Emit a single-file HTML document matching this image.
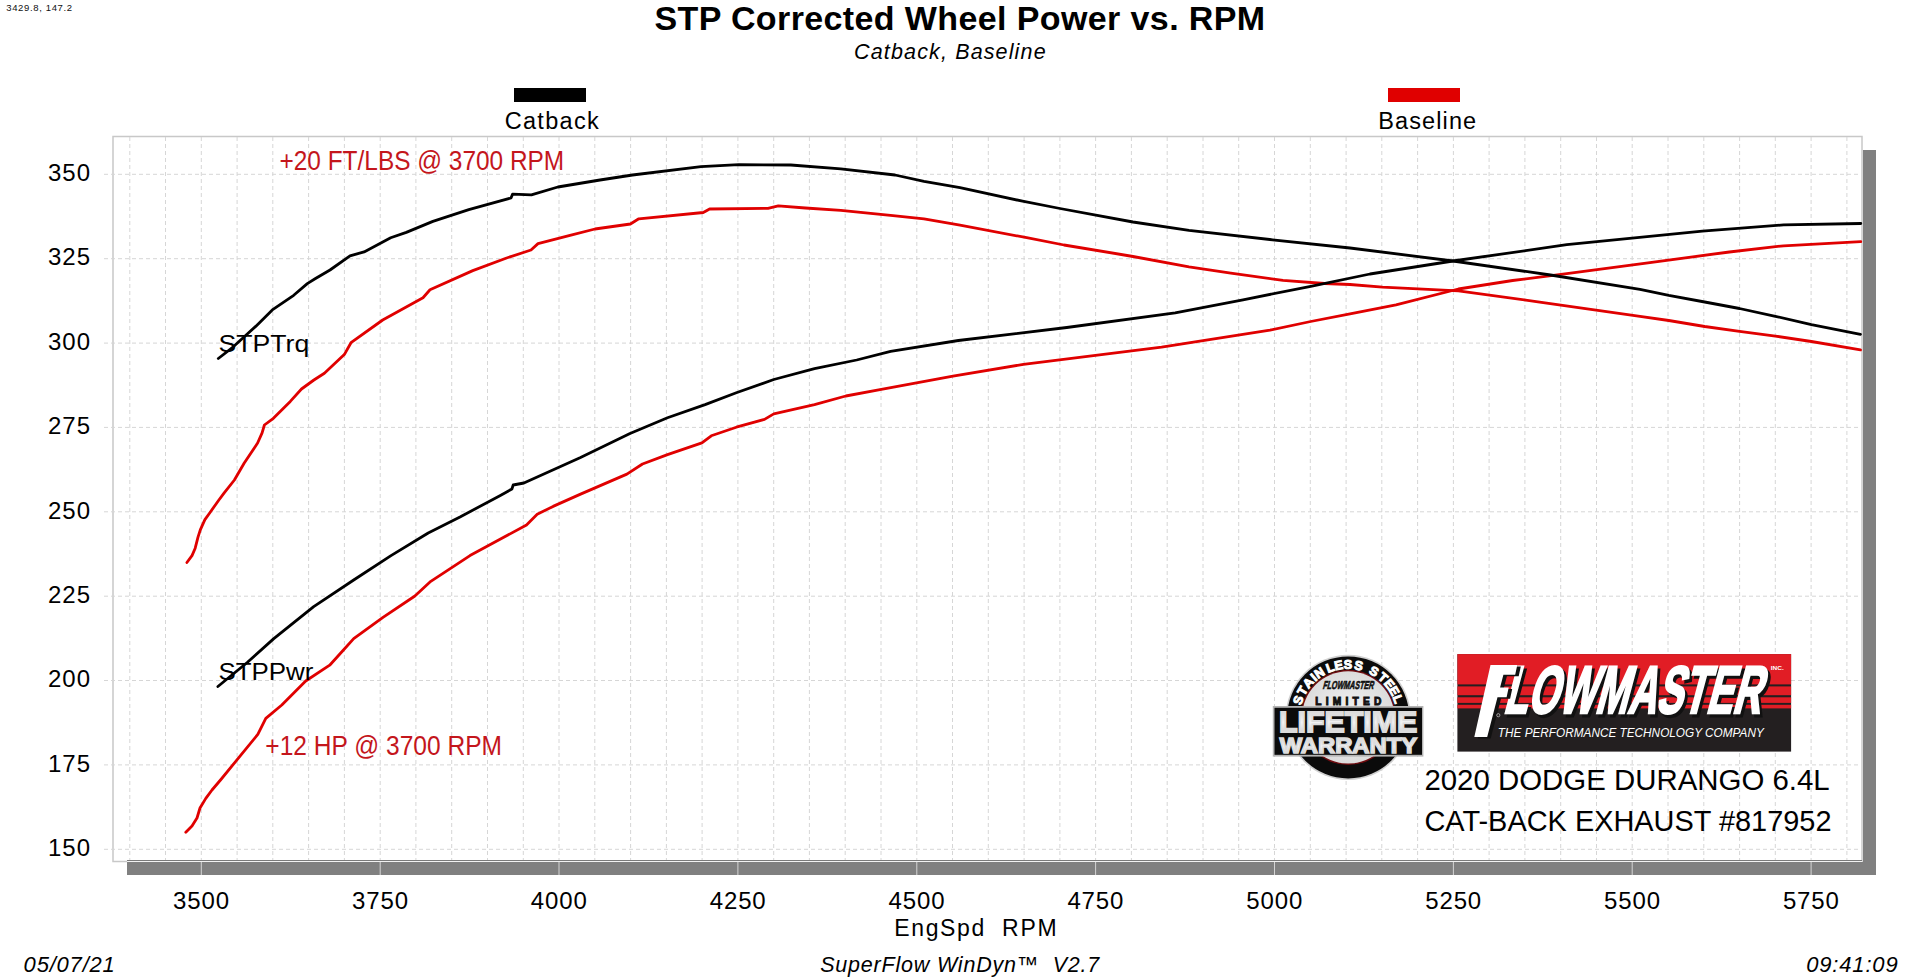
<!DOCTYPE html>
<html><head><meta charset="utf-8"><style>
html,body{margin:0;padding:0;background:#fff;width:1919px;height:977px;overflow:hidden}
svg{display:block}
text{font-family:"Liberation Sans",sans-serif}
.ax{font-size:24px;fill:#000}
.g{stroke:#d6d6d6;stroke-width:1;stroke-dasharray:4,3;fill:none}
.cv{fill:none;stroke-width:2.8;stroke-linejoin:round;stroke-linecap:round}
</style></head><body>
<svg width="1919" height="977" viewBox="0 0 1919 977">
<rect x="514" y="88" width="72" height="14" fill="#000"/>
<rect x="1388" y="88" width="72" height="14" fill="#e00000"/>
<text x="6.20" y="10.90" font-size="9.5" fill="#111" textLength="65.91" lengthAdjust="spacing">3429.8, 147.2</text><text x="654.40" y="29.70" font-size="34" fill="#000" font-weight="bold" textLength="610.73" lengthAdjust="spacing">STP Corrected Wheel Power vs. RPM</text><text x="854.10" y="58.50" font-size="21.5" fill="#000" font-style="italic" textLength="191.50" lengthAdjust="spacing">Catback, Baseline</text><text x="504.70" y="128.90" font-size="23.5" fill="#000" textLength="94.02" lengthAdjust="spacing">Catback</text><text x="1378.20" y="128.90" font-size="23.5" fill="#000" textLength="97.96" lengthAdjust="spacing">Baseline</text>
<!-- shadow -->
<!-- plot -->
<rect x="113" y="136.5" width="1749" height="725" fill="#fff" stroke="#c8c8c8" stroke-width="1.5"/>
<rect x="1863" y="150" width="13" height="725" fill="#808080"/>
<rect x="127" y="862" width="1749" height="13" fill="#808080"/>
<line x1="127" y1="860.5" x2="1862" y2="860.5" stroke="#7a7a7a" stroke-width="1"/>
<line x1="127" y1="861.5" x2="1862" y2="861.5" stroke="#f2f2f2" stroke-width="1"/>
<line x1="201.3" y1="862" x2="201.3" y2="875" stroke="#d4d4d4" stroke-width="1"/><line x1="380.2" y1="862" x2="380.2" y2="875" stroke="#d4d4d4" stroke-width="1"/><line x1="559.0" y1="862" x2="559.0" y2="875" stroke="#d4d4d4" stroke-width="1"/><line x1="737.9" y1="862" x2="737.9" y2="875" stroke="#d4d4d4" stroke-width="1"/><line x1="916.8" y1="862" x2="916.8" y2="875" stroke="#d4d4d4" stroke-width="1"/><line x1="1095.6" y1="862" x2="1095.6" y2="875" stroke="#d4d4d4" stroke-width="1"/><line x1="1274.5" y1="862" x2="1274.5" y2="875" stroke="#d4d4d4" stroke-width="1"/><line x1="1453.4" y1="862" x2="1453.4" y2="875" stroke="#d4d4d4" stroke-width="1"/><line x1="1632.2" y1="862" x2="1632.2" y2="875" stroke="#d4d4d4" stroke-width="1"/><line x1="1811.1" y1="862" x2="1811.1" y2="875" stroke="#d4d4d4" stroke-width="1"/>
<line x1="129.8" y1="137" x2="129.8" y2="860" class="g"/><line x1="165.5" y1="137" x2="165.5" y2="860" class="g"/><line x1="201.3" y1="137" x2="201.3" y2="860" class="g"/><line x1="237.1" y1="137" x2="237.1" y2="860" class="g"/><line x1="272.8" y1="137" x2="272.8" y2="860" class="g"/><line x1="308.6" y1="137" x2="308.6" y2="860" class="g"/><line x1="344.4" y1="137" x2="344.4" y2="860" class="g"/><line x1="380.2" y1="137" x2="380.2" y2="860" class="g"/><line x1="415.9" y1="137" x2="415.9" y2="860" class="g"/><line x1="451.7" y1="137" x2="451.7" y2="860" class="g"/><line x1="487.5" y1="137" x2="487.5" y2="860" class="g"/><line x1="523.3" y1="137" x2="523.3" y2="860" class="g"/><line x1="559.0" y1="137" x2="559.0" y2="860" class="g"/><line x1="594.8" y1="137" x2="594.8" y2="860" class="g"/><line x1="630.6" y1="137" x2="630.6" y2="860" class="g"/><line x1="666.4" y1="137" x2="666.4" y2="860" class="g"/><line x1="702.1" y1="137" x2="702.1" y2="860" class="g"/><line x1="737.9" y1="137" x2="737.9" y2="860" class="g"/><line x1="773.7" y1="137" x2="773.7" y2="860" class="g"/><line x1="809.4" y1="137" x2="809.4" y2="860" class="g"/><line x1="845.2" y1="137" x2="845.2" y2="860" class="g"/><line x1="881.0" y1="137" x2="881.0" y2="860" class="g"/><line x1="916.8" y1="137" x2="916.8" y2="860" class="g"/><line x1="952.5" y1="137" x2="952.5" y2="860" class="g"/><line x1="988.3" y1="137" x2="988.3" y2="860" class="g"/><line x1="1024.1" y1="137" x2="1024.1" y2="860" class="g"/><line x1="1059.9" y1="137" x2="1059.9" y2="860" class="g"/><line x1="1095.6" y1="137" x2="1095.6" y2="860" class="g"/><line x1="1131.4" y1="137" x2="1131.4" y2="860" class="g"/><line x1="1167.2" y1="137" x2="1167.2" y2="860" class="g"/><line x1="1203.0" y1="137" x2="1203.0" y2="860" class="g"/><line x1="1238.7" y1="137" x2="1238.7" y2="860" class="g"/><line x1="1274.5" y1="137" x2="1274.5" y2="860" class="g"/><line x1="1310.3" y1="137" x2="1310.3" y2="860" class="g"/><line x1="1346.1" y1="137" x2="1346.1" y2="860" class="g"/><line x1="1381.8" y1="137" x2="1381.8" y2="860" class="g"/><line x1="1417.6" y1="137" x2="1417.6" y2="860" class="g"/><line x1="1453.4" y1="137" x2="1453.4" y2="860" class="g"/><line x1="1489.1" y1="137" x2="1489.1" y2="860" class="g"/><line x1="1524.9" y1="137" x2="1524.9" y2="860" class="g"/><line x1="1560.7" y1="137" x2="1560.7" y2="860" class="g"/><line x1="1596.5" y1="137" x2="1596.5" y2="860" class="g"/><line x1="1632.2" y1="137" x2="1632.2" y2="860" class="g"/><line x1="1668.0" y1="137" x2="1668.0" y2="860" class="g"/><line x1="1703.8" y1="137" x2="1703.8" y2="860" class="g"/><line x1="1739.6" y1="137" x2="1739.6" y2="860" class="g"/><line x1="1775.3" y1="137" x2="1775.3" y2="860" class="g"/><line x1="1811.1" y1="137" x2="1811.1" y2="860" class="g"/><line x1="1846.9" y1="137" x2="1846.9" y2="860" class="g"/><line x1="104" y1="849.3" x2="1861" y2="849.3" class="g"/><line x1="104" y1="764.9" x2="1861" y2="764.9" class="g"/><line x1="104" y1="680.5" x2="1861" y2="680.5" class="g"/><line x1="104" y1="596.2" x2="1861" y2="596.2" class="g"/><line x1="104" y1="511.8" x2="1861" y2="511.8" class="g"/><line x1="104" y1="427.4" x2="1861" y2="427.4" class="g"/><line x1="104" y1="343.1" x2="1861" y2="343.1" class="g"/><line x1="104" y1="258.7" x2="1861" y2="258.7" class="g"/><line x1="104" y1="174.3" x2="1861" y2="174.3" class="g"/>
<text x="48" y="856.0" textLength="42" lengthAdjust="spacing" class="ax">150</text><text x="48" y="771.6" textLength="42" lengthAdjust="spacing" class="ax">175</text><text x="48" y="687.2" textLength="42" lengthAdjust="spacing" class="ax">200</text><text x="48" y="602.9" textLength="42" lengthAdjust="spacing" class="ax">225</text><text x="48" y="518.5" textLength="42" lengthAdjust="spacing" class="ax">250</text><text x="48" y="434.1" textLength="42" lengthAdjust="spacing" class="ax">275</text><text x="48" y="349.8" textLength="42" lengthAdjust="spacing" class="ax">300</text><text x="48" y="265.4" textLength="42" lengthAdjust="spacing" class="ax">325</text><text x="48" y="181.0" textLength="42" lengthAdjust="spacing" class="ax">350</text>
<text x="173.1" y="908.6" textLength="56" lengthAdjust="spacing" class="ax">3500</text><text x="352.0" y="908.6" textLength="56" lengthAdjust="spacing" class="ax">3750</text><text x="530.8" y="908.6" textLength="56" lengthAdjust="spacing" class="ax">4000</text><text x="709.7" y="908.6" textLength="56" lengthAdjust="spacing" class="ax">4250</text><text x="888.6" y="908.6" textLength="56" lengthAdjust="spacing" class="ax">4500</text><text x="1067.4" y="908.6" textLength="56" lengthAdjust="spacing" class="ax">4750</text><text x="1246.3" y="908.6" textLength="56" lengthAdjust="spacing" class="ax">5000</text><text x="1425.2" y="908.6" textLength="56" lengthAdjust="spacing" class="ax">5250</text><text x="1604.0" y="908.6" textLength="56" lengthAdjust="spacing" class="ax">5500</text><text x="1782.9" y="908.6" textLength="56" lengthAdjust="spacing" class="ax">5750</text>
<text x="894.20" y="935.80" font-size="23" fill="#000" textLength="162.35" lengthAdjust="spacing">EngSpd  RPM</text><text x="23.60" y="971.70" font-size="22" fill="#000" font-style="italic" textLength="91.24" lengthAdjust="spacing">05/07/21</text><text x="820.20" y="971.70" font-size="21.5" fill="#000" font-style="italic" textLength="279.10" lengthAdjust="spacing">SuperFlow WinDyn™  V2.7</text><text x="1806.20" y="971.60" font-size="22" fill="#000" font-style="italic" textLength="91.44" lengthAdjust="spacing">09:41:09</text>
<!-- curves -->
<path class="cv" stroke="#e00000" d="M186.9,562.5 L192.0,555.6 L195.2,548.2 L198.0,537.1 L200.3,529.8 L204.9,519.6 L209.5,513.2 L218.7,500.3 L224.2,492.9 L234.4,480.0 L244.1,463.3 L257.6,443.0 L262.1,432.9 L264.4,425.0 L273.4,418.3 L290.3,401.4 L301.5,389.0 L313.9,380.0 L324.4,373.3 L344.3,354.6 L351.0,342.7 L382.7,320.0 L423.0,297.7 L430.0,289.8 L472.8,270.6 L506.6,258.0 L531.0,250.0 L538.0,243.6 L570.0,235.4 L595.0,229.0 L630.4,224.0 L638.8,218.8 L703.3,212.5 L709.6,209.0 L768.0,208.3 L778.3,205.8 L805.4,208.0 L840.8,210.4 L893.0,215.6 L924.0,218.8 L960.0,225.2 L1026.7,237.7 L1064.0,245.0 L1133.0,256.5 L1189.0,266.9 L1230.8,273.1 L1283.0,280.4 L1324.6,283.5 L1350.0,284.5 L1382.5,287.2 L1458.4,290.8 L1539.7,302.1 L1640.0,316.3 L1668.8,320.5 L1704.7,326.5 L1739.5,331.3 L1775.4,336.1 L1811.4,341.5 L1860.5,349.9"/>
<path class="cv" stroke="#e00000" d="M185.8,832.2 L192.0,826.0 L197.0,818.0 L200.0,808.0 L205.8,798.4 L212.0,790.0 L220.5,780.0 L257.8,734.4 L265.8,718.4 L281.8,705.0 L305.7,681.0 L329.7,665.2 L343.0,650.5 L353.7,638.6 L383.0,617.3 L414.9,596.0 L430.8,581.3 L470.0,555.6 L526.5,525.0 L537.2,514.3 L553.1,506.4 L580.0,494.4 L626.9,474.1 L642.5,464.0 L667.5,454.6 L701.9,442.9 L711.3,435.8 L736.3,427.2 L764.5,419.4 L773.8,413.9 L814.5,404.6 L845.8,396.0 L880.0,389.7 L953.0,376.2 L1023.4,364.3 L1161.6,347.2 L1270.0,330.2 L1310.7,321.5 L1350.0,313.8 L1396.0,304.8 L1458.4,289.0 L1512.6,280.5 L1566.8,273.7 L1648.0,262.8 L1729.4,252.0 L1783.6,245.8 L1860.8,241.7"/>
<path class="cv" stroke="#000" d="M218.3,358.5 L233.3,346.8 L247.0,334.2 L255.7,326.4 L272.3,309.9 L293.7,295.3 L307.3,283.6 L315.1,278.8 L330.0,270.0 L350.0,255.8 L364.1,251.9 L390.7,237.8 L406.3,232.4 L432.9,221.4 L468.8,209.7 L511.0,198.0 L512.6,194.1 L531.4,194.9 L557.9,187.0 L600.0,180.0 L632.5,175.0 L701.0,166.7 L738.8,164.6 L790.8,165.0 L840.8,168.8 L895.0,175.0 L924.0,181.3 L960.0,187.7 L1022.5,201.2 L1060.0,208.5 L1133.0,222.0 L1189.0,230.4 L1272.5,239.8 L1350.0,248.0 L1453.0,261.0 L1550.5,275.0 L1640.0,289.4 L1668.8,295.4 L1704.7,302.0 L1739.5,308.5 L1775.4,316.3 L1811.4,324.7 L1860.5,334.3"/>
<path class="cv" stroke="#000" d="M217.9,686.5 L247.2,662.5 L273.8,638.6 L313.7,606.6 L353.7,580.0 L391.0,555.6 L428.2,533.0 L460.0,517.0 L499.9,495.7 L511.9,489.0 L513.2,485.0 L523.9,483.0 L580.0,457.7 L630.0,433.5 L667.5,417.8 L705.1,404.6 L736.3,392.8 L773.8,379.5 L814.5,368.6 L856.7,360.0 L890.6,351.3 L958.4,340.5 L1066.8,327.5 L1175.2,312.8 L1243.0,299.8 L1310.7,286.3 L1370.0,274.0 L1453.0,261.0 L1566.8,244.7 L1702.3,231.1 L1783.6,224.9 L1860.8,223.5"/>
<text x="218.50" y="351.60" font-size="23" fill="#000" textLength="90.79" lengthAdjust="spacingAndGlyphs">STPTrq</text><text x="218.50" y="679.60" font-size="23" fill="#000" textLength="94.94" lengthAdjust="spacingAndGlyphs">STPPwr</text><text x="279.50" y="169.90" font-size="28" fill="#c4161c" textLength="284.67" lengthAdjust="spacingAndGlyphs">+20 FT/LBS @ 3700 RPM</text><text x="265.30" y="755.00" font-size="27" fill="#c4161c" textLength="236.70" lengthAdjust="spacingAndGlyphs">+12 HP @ 3700 RPM</text><text x="1424.40" y="789.90" font-size="29" fill="#000" textLength="405.30" lengthAdjust="spacingAndGlyphs">2020 DODGE DURANGO 6.4L</text><text x="1424.40" y="831.10" font-size="29" fill="#000" textLength="407.14" lengthAdjust="spacingAndGlyphs">CAT-BACK EXHAUST #817952</text>

<defs>
<linearGradient id="silver" x1="0" y1="0" x2="0" y2="1">
<stop offset="0" stop-color="#c8c8c8"/><stop offset="0.55" stop-color="#f2f2f2"/><stop offset="1" stop-color="#c4c4c4"/>
</linearGradient>
<radialGradient id="inner" cx="0.5" cy="0.5" r="0.5">
<stop offset="0" stop-color="#f4f4f4"/><stop offset="1" stop-color="#dcdcdc"/>
</radialGradient>
<path id="arcp" d="M1298.19,721.78 A50.2,50.2 0 0 1 1398.21,721.78"/>
</defs>
<circle cx="1348.2" cy="717.4" r="62.6" fill="#d0d0d0"/>
<circle cx="1348.2" cy="717.4" r="61" fill="#0b0b0b"/>
<circle cx="1348.2" cy="717.4" r="47.6" fill="#6e0c10"/>
<circle cx="1348.2" cy="717.4" r="46.2" fill="url(#inner)"/>
<text transform="translate(1348.2,717.4) rotate(-71.0) translate(0,-48.6)" text-anchor="middle" font-weight="bold" font-size="12.6" fill="#fff" stroke="#fff" stroke-width="1.0">S</text><text transform="translate(1348.2,717.4) rotate(-59.8) translate(0,-48.6)" text-anchor="middle" font-weight="bold" font-size="12.6" fill="#fff" stroke="#fff" stroke-width="1.0">T</text><text transform="translate(1348.2,717.4) rotate(-49.2) translate(0,-48.6)" text-anchor="middle" font-weight="bold" font-size="12.6" fill="#fff" stroke="#fff" stroke-width="1.0">A</text><text transform="translate(1348.2,717.4) rotate(-40.7) translate(0,-48.6)" text-anchor="middle" font-weight="bold" font-size="12.6" fill="#fff" stroke="#fff" stroke-width="1.0">I</text><text transform="translate(1348.2,717.4) rotate(-32.8) translate(0,-48.6)" text-anchor="middle" font-weight="bold" font-size="12.6" fill="#fff" stroke="#fff" stroke-width="1.0">N</text><text transform="translate(1348.2,717.4) rotate(-20.1) translate(0,-48.6)" text-anchor="middle" font-weight="bold" font-size="12.6" fill="#fff" stroke="#fff" stroke-width="1.0">L</text><text transform="translate(1348.2,717.4) rotate(-10.4) translate(0,-48.6)" text-anchor="middle" font-weight="bold" font-size="12.6" fill="#fff" stroke="#fff" stroke-width="1.0">E</text><text transform="translate(1348.2,717.4) rotate(-0.2) translate(0,-48.6)" text-anchor="middle" font-weight="bold" font-size="12.6" fill="#fff" stroke="#fff" stroke-width="1.0">S</text><text transform="translate(1348.2,717.4) rotate(11.6) translate(0,-48.6)" text-anchor="middle" font-weight="bold" font-size="12.6" fill="#fff" stroke="#fff" stroke-width="1.0">S</text><text transform="translate(1348.2,717.4) rotate(29.3) translate(0,-48.6)" text-anchor="middle" font-weight="bold" font-size="12.6" fill="#fff" stroke="#fff" stroke-width="1.0">S</text><text transform="translate(1348.2,717.4) rotate(41.0) translate(0,-48.6)" text-anchor="middle" font-weight="bold" font-size="12.6" fill="#fff" stroke="#fff" stroke-width="1.0">T</text><text transform="translate(1348.2,717.4) rotate(51.0) translate(0,-48.6)" text-anchor="middle" font-weight="bold" font-size="12.6" fill="#fff" stroke="#fff" stroke-width="1.0">E</text><text transform="translate(1348.2,717.4) rotate(60.0) translate(0,-48.6)" text-anchor="middle" font-weight="bold" font-size="12.6" fill="#fff" stroke="#fff" stroke-width="1.0">E</text><text transform="translate(1348.2,717.4) rotate(69.8) translate(0,-48.6)" text-anchor="middle" font-weight="bold" font-size="12.6" fill="#fff" stroke="#fff" stroke-width="1.0">L</text>
<text x="1322.5" y="689" font-weight="bold" font-style="italic" font-size="11.5" fill="#111" stroke="#111" stroke-width="0.6" textLength="51" lengthAdjust="spacingAndGlyphs" transform="skewX(-8) translate(97,0)">FLOWMASTER</text>
<text x="1315.3" y="704.6" font-weight="bold" font-size="10.2" fill="#111" stroke="#111" stroke-width="0.9" textLength="66" lengthAdjust="spacing">LIMITED</text>
<rect x="1272.8" y="706" width="150.6" height="50.6" fill="#b4b4b4"/>
<rect x="1274.5" y="707.8" width="147.5" height="47" fill="#0b0b0b"/>
<text x="1278.9" y="731.8" font-weight="bold" font-size="30.4" fill="url(#silver)" stroke="#dcdcdc" stroke-width="1.8" textLength="138.5" lengthAdjust="spacingAndGlyphs">LIFETIME</text>
<text x="1279.7" y="752.7" font-weight="bold" font-size="22.5" fill="url(#silver)" stroke="#dcdcdc" stroke-width="1.6" textLength="137.4" lengthAdjust="spacingAndGlyphs">WARRANTY</text>


<rect x="1457.4" y="654.1" width="333.7" height="97.5" fill="#231f20"/>
<rect x="1457.4" y="654.1" width="333.7" height="30.3" fill="#e11d25"/>
<rect x="1457.4" y="686.4" width="333.7" height="8.8" fill="#e11d25"/>
<rect x="1457.4" y="697.3" width="333.7" height="5.6" fill="#e11d25"/>
<rect x="1457.4" y="704.8" width="333.7" height="3.6" fill="#e11d25"/>
<g transform="translate(0,715.5) skewX(-15)">
<text x="1505.5" y="0.5" font-weight="bold" font-size="67" fill="#111" stroke="#111" stroke-width="3" textLength="257" lengthAdjust="spacingAndGlyphs" transform="translate(0,0)">LOWMASTER</text>
<text x="1502" y="-3" font-weight="bold" font-size="67" fill="#fff" stroke="#fff" stroke-width="2.6" textLength="257" lengthAdjust="spacingAndGlyphs">LOWMASTER</text>
</g>
<path d="M1490.5,665 L1517.3,665 L1515.2,674.7 L1503.4,674.7 L1500.1,687.6 L1508.7,687.6 L1506.6,697.3 L1497.5,697.3 L1487.2,737.1 L1474.3,737.1 Z" fill="#111" transform="translate(3.5,1.5)"/><path d="M1490.5,665 L1517.3,665 L1515.2,674.7 L1503.4,674.7 L1500.1,687.6 L1508.7,687.6 L1506.6,697.3 L1497.5,697.3 L1487.2,737.1 L1474.3,737.1 Z" fill="#fff"/>
<circle id="reg" cx="1498.3" cy="715.2" r="1.6" fill="none" stroke="#ddd" stroke-width="0.6"/>
<text x="1770.7" y="669.9" font-weight="bold" font-size="5.5" fill="#fff" textLength="13" lengthAdjust="spacingAndGlyphs">INC.</text>
<text x="1497.8" y="736.8" font-style="italic" font-size="12" fill="#fff" textLength="266" lengthAdjust="spacingAndGlyphs">THE PERFORMANCE TECHNOLOGY COMPANY</text>

</svg>
</body></html>
